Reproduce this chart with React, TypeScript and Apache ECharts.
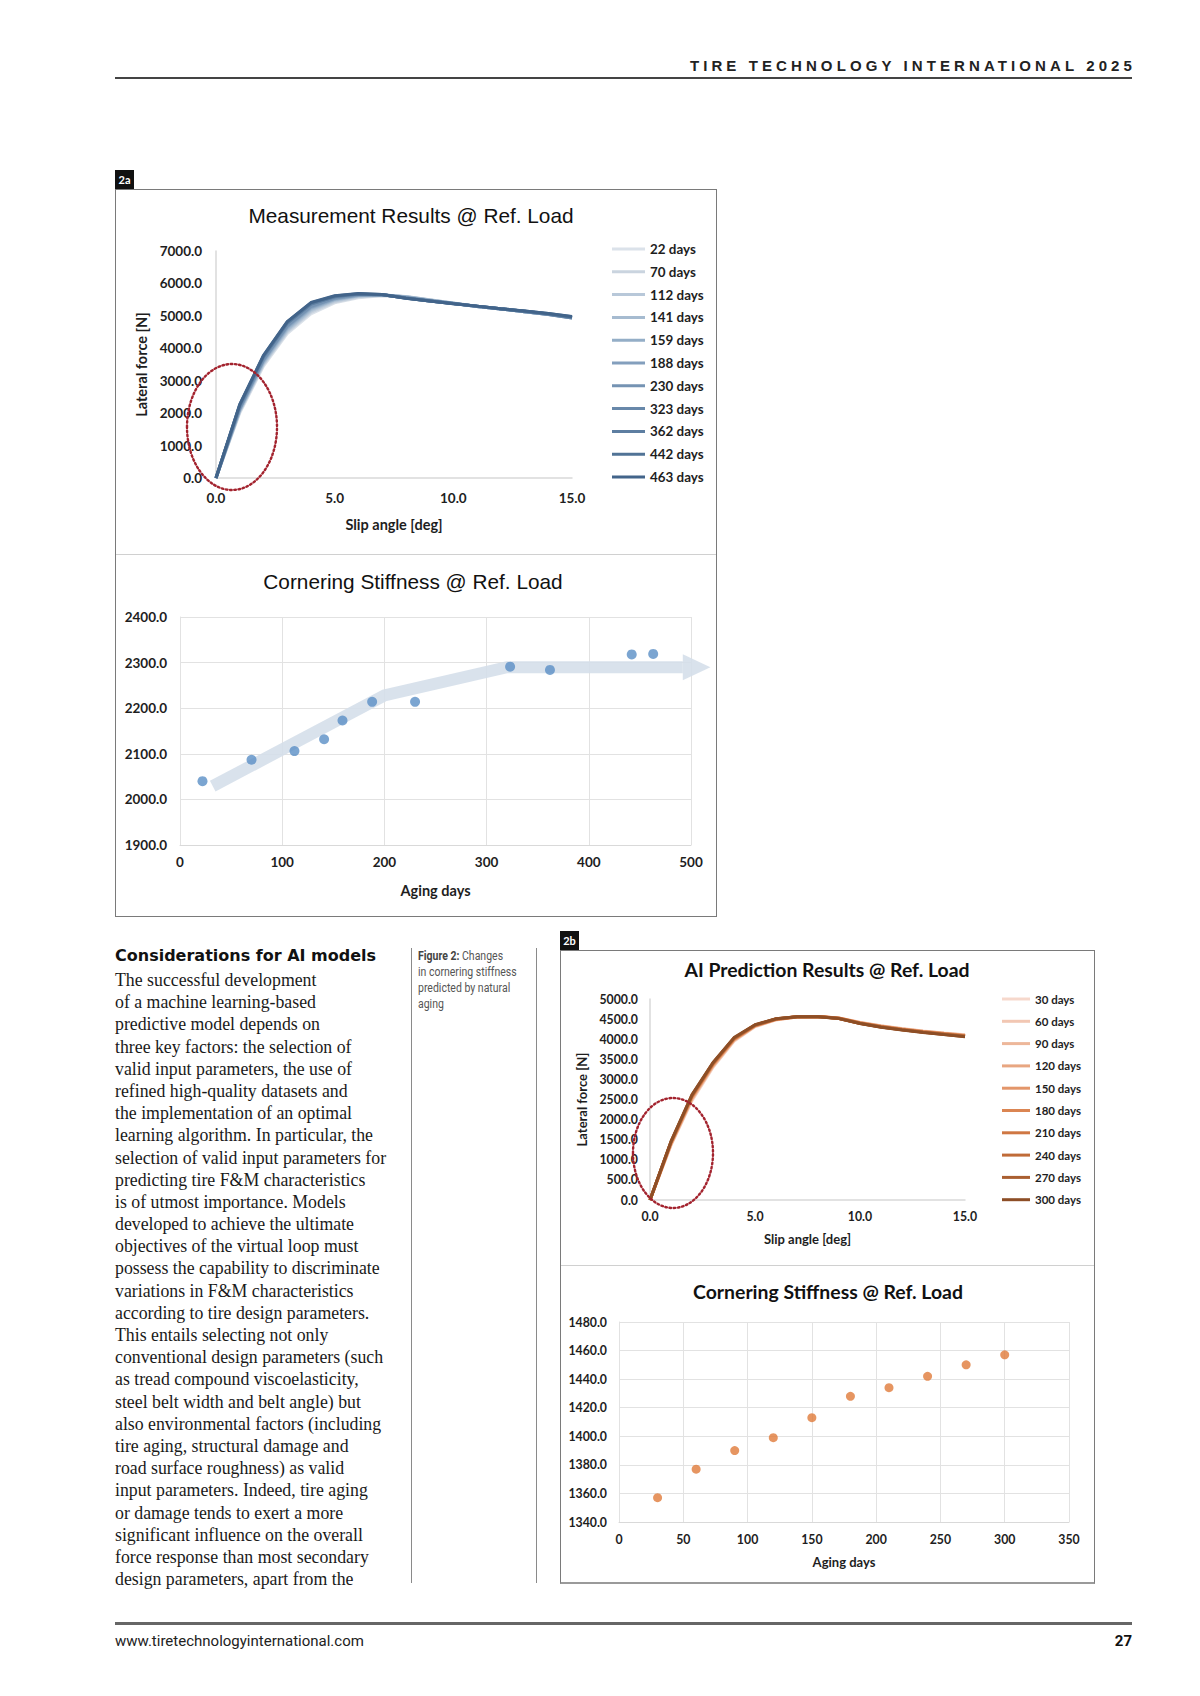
import React, { useEffect, useRef } from "react";
import * as echarts from "echarts";

// ---------- DATA ----------
const slipAngles = [0, 1, 2, 3, 4, 5, 6, 7, 8, 9, 10, 11, 12, 13, 14, 15];

const measuredLabels = ["22 days", "70 days", "112 days", "141 days", "159 days", "188 days", "230 days", "323 days", "362 days", "442 days", "463 days"];
const m22 = [0, 2000, 3450, 4450, 5060, 5400, 5560, 5620, 5600, 5500, 5400, 5300, 5220, 5140, 5060, 4960];
const m70 = [0, 2040, 3500, 4500, 5110, 5430, 5580, 5630, 5600, 5500, 5400, 5300, 5220, 5140, 5060, 4960];
const m112 = [0, 2060, 3530, 4540, 5150, 5460, 5600, 5640, 5590, 5490, 5390, 5290, 5210, 5130, 5050, 4950];
const m141 = [0, 2080, 3560, 4580, 5190, 5490, 5620, 5650, 5590, 5490, 5390, 5290, 5210, 5130, 5050, 4940];
const m159 = [0, 2110, 3600, 4620, 5230, 5510, 5630, 5650, 5580, 5480, 5390, 5290, 5210, 5130, 5050, 4940];
const m188 = [0, 2140, 3630, 4660, 5260, 5530, 5640, 5650, 5570, 5470, 5380, 5290, 5210, 5130, 5040, 4930];
const m230 = [0, 2150, 3650, 4690, 5290, 5550, 5650, 5650, 5560, 5470, 5380, 5290, 5210, 5130, 5040, 4930];
const m323 = [0, 2230, 3740, 4780, 5370, 5590, 5670, 5650, 5550, 5460, 5380, 5300, 5220, 5140, 5060, 4950];
const m362 = [0, 2220, 3730, 4770, 5360, 5590, 5670, 5650, 5550, 5460, 5380, 5300, 5220, 5140, 5060, 4950];
const m442 = [0, 2260, 3770, 4810, 5400, 5610, 5680, 5660, 5540, 5460, 5370, 5300, 5220, 5150, 5070, 4970];
const m463 = [0, 2270, 3780, 4820, 5410, 5620, 5690, 5660, 5540, 5460, 5370, 5300, 5220, 5150, 5070, 4980];
const measuredCurves = [m22, m70, m112, m141, m159, m188, m230, m323, m362, m442, m463];

const measuredDays = [22, 70, 112, 141, 159, 188, 230, 323, 362, 442, 463];
const measuredStiffness = [2040, 2087, 2106, 2132, 2173, 2214, 2214, 2291, 2284, 2318, 2319];

const trendDays = [32, 200, 320, 492];
const trendValues = [2029, 2228, 2290, 2290];
const trendHead = [492, 2290, 519]; // base day, value, tip day

const predictedLabels = ["30 days", "60 days", "90 days", "120 days", "150 days", "180 days", "210 days", "240 days", "270 days", "300 days"];
const p30 = [0, 1357, 2470, 3300, 3950, 4310, 4480, 4550, 4565, 4530, 4420, 4335, 4265, 4205, 4155, 4110];
const p60 = [0, 1377, 2500, 3320, 3965, 4320, 4485, 4552, 4565, 4528, 4415, 4330, 4260, 4200, 4150, 4104];
const p90 = [0, 1390, 2520, 3335, 3975, 4325, 4488, 4553, 4564, 4526, 4412, 4326, 4256, 4196, 4146, 4099];
const p120 = [0, 1399, 2535, 3350, 3985, 4330, 4492, 4555, 4564, 4524, 4409, 4322, 4252, 4192, 4142, 4094];
const p150 = [0, 1413, 2555, 3365, 3995, 4335, 4495, 4556, 4563, 4522, 4405, 4318, 4248, 4188, 4137, 4088];
const p180 = [0, 1428, 2575, 3380, 4005, 4340, 4498, 4557, 4563, 4520, 4402, 4314, 4244, 4184, 4133, 4083];
const p210 = [0, 1434, 2585, 3390, 4012, 4345, 4501, 4558, 4562, 4518, 4398, 4310, 4240, 4180, 4128, 4077];
const p240 = [0, 1442, 2598, 3400, 4020, 4350, 4504, 4559, 4562, 4516, 4395, 4306, 4236, 4176, 4124, 4072];
const p270 = [0, 1450, 2610, 3410, 4030, 4355, 4507, 4560, 4561, 4514, 4392, 4302, 4232, 4172, 4119, 4066];
const p300 = [0, 1457, 2620, 3420, 4040, 4360, 4510, 4560, 4560, 4512, 4390, 4298, 4228, 4168, 4114, 4060];
const predictedCurves = [p30, p60, p90, p120, p150, p180, p210, p240, p270, p300];

const predictedDays = [30, 60, 90, 120, 150, 180, 210, 240, 270, 300];
const predictedStiffness = [1357, 1377, 1390, 1399, 1413, 1428, 1434, 1442, 1450, 1457];

const bodyLines = [
  "The successful development",
  "of a machine learning-based",
  "predictive model depends on",
  "three key factors: the selection of",
  "valid input parameters, the use of",
  "refined high-quality datasets and",
  "the implementation of an optimal",
  "learning algorithm. In particular, the",
  "selection of valid input parameters for",
  "predicting tire F&M characteristics",
  "is of utmost importance. Models",
  "developed to achieve the ultimate",
  "objectives of the virtual loop must",
  "possess the capability to discriminate",
  "variations in F&M characteristics",
  "according to tire design parameters.",
  "This entails selecting not only",
  "conventional design parameters (such",
  "as tread compound viscoelasticity,",
  "steel belt width and belt angle) but",
  "also environmental factors (including",
  "tire aging, structural damage and",
  "road surface roughness) as valid",
  "input parameters. Indeed, tire aging",
  "or damage tends to exert a more",
  "significant influence on the overall",
  "force response than most secondary",
  "design parameters, apart from the",
];
const captionLines = ["in cornering stiffness", "predicted by natural", "aging"];

// ---------- STYLE ----------
const blueColors = ["#dbe2ea", "#cad4df", "#b8c8d9", "#a6bbd0", "#94aec7", "#839fbd", "#7593b3", "#6888aa", "#5d7ea1", "#517396", "#42648a"];
const orangeColors = ["#f6d8cc", "#f2c7b3", "#edb79a", "#e8a681", "#e3966a", "#db8552", "#cf7743", "#c06b38", "#aa5f31", "#8d4e26"];
const calibri = "Lato, 'Open Sans', sans-serif";
const arial = "'Liberation Sans', Arial, sans-serif";
const bandColor = "#d5dfea";

function axisLabelStyle(size: number, margin: number, decimals: number) {
  return {
    color: "#1e1e1e",
    fontFamily: calibri,
    fontWeight: "bold",
    fontSize: size,
    margin,
    formatter: (v: number) => v.toFixed(decimals),
  };
}

function nameStyle(size: number) {
  return { color: "#1e1e1e", fontFamily: calibri, fontWeight: "bold", fontSize: size, verticalAlign: "middle", align: "center" };
}

function titleText(text: string, x: number, y: number, font: string) {
  return { type: "text", x, y, z: 50, style: { text, align: "center", verticalAlign: "middle", font, fill: "#111" } };
}

function dottedEllipse(cx: number, cy: number, rx: number, ry: number) {
  return {
    type: "ellipse",
    z: 100,
    shape: { cx, cy, rx, ry },
    style: { fill: "none", stroke: "#a3232e", lineWidth: 2.4, lineDash: [1.6, 2.6], lineCap: "round" },
  };
}

function lineLegend(left: number, top: number, width: number, gap: number, fontSize: number, labels: string[]) {
  return {
    orient: "vertical",
    left,
    top,
    padding: 0,
    icon: "rect",
    itemWidth: width,
    itemHeight: 3,
    itemGap: gap,
    textStyle: { fontFamily: calibri, fontWeight: "bold", fontSize, lineHeight: 14, color: "#1e1e1e" },
    data: labels,
  };
}

const optMeasured = {
  animation: false,
  graphic: [titleText("Measurement Results @ Ref. Load", 295, 25, `normal 20.8px ${arial}`), dottedEllipse(116, 237, 45, 63)],
  grid: { left: 100, top: 61, width: 356, height: 227 },
  legend: lineLegend(496, 52, 33, 8.8, 13.4, measuredLabels),
  xAxis: {
    type: "value", min: 0, max: 15, interval: 5,
    axisLine: { show: true, lineStyle: { color: "#d9d9d9", width: 1.5 } },
    axisTick: { show: false }, splitLine: { show: false },
    axisLabel: axisLabelStyle(13.5, 13, 1),
    name: "Slip angle [deg]", nameLocation: "middle", nameGap: 46, nameTextStyle: nameStyle(14.5),
  },
  yAxis: {
    type: "value", min: 0, max: 7000, interval: 1000,
    axisLine: { show: true, lineStyle: { color: "#d9d9d9", width: 1.5 } },
    axisTick: { show: false }, splitLine: { show: false },
    axisLabel: axisLabelStyle(13.5, 14, 1),
    name: "Lateral force [N]", nameLocation: "middle", nameGap: 71, nameRotate: 90, nameTextStyle: nameStyle(14.5),
  },
  series: measuredCurves.map((curve, i) => ({
    type: "line",
    name: measuredLabels[i],
    data: slipAngles.map((s, j) => [s, curve[j]]),
    symbol: "none",
    lineStyle: { width: 3, color: blueColors[i] },
    itemStyle: { color: blueColors[i] },
    z: 2 + i,
  })),
};

const optMeasuredStiffness = {
  animation: false,
  graphic: [titleText("Cornering Stiffness @ Ref. Load", 297, 26, `normal 20.8px ${arial}`)],
  grid: { left: 64, top: 62, width: 511, height: 228 },
  xAxis: {
    type: "value", min: 0, max: 500, interval: 100,
    axisLine: { show: true, lineStyle: { color: "#d9d9d9" } },
    axisTick: { show: false },
    splitLine: { show: true, lineStyle: { color: "#e2e2e2" } },
    axisLabel: axisLabelStyle(13.5, 10, 0),
    name: "Aging days", nameLocation: "middle", nameGap: 45, nameTextStyle: nameStyle(14.5),
  },
  yAxis: {
    type: "value", min: 1900, max: 2400, interval: 100,
    axisLine: { show: true, lineStyle: { color: "#e2e2e2" } },
    axisTick: { show: false },
    splitLine: { show: true, lineStyle: { color: "#e2e2e2" } },
    axisLabel: axisLabelStyle(13.5, 13, 1),
  },
  series: [
    {
      type: "line",
      data: trendDays.map((d, i) => [d, trendValues[i]]),
      symbol: "none",
      silent: true,
      z: 1,
      lineStyle: { width: 12, color: bandColor, opacity: 0.9, cap: "butt", join: "miter" },
    },
    {
      type: "custom",
      silent: true,
      clip: false,
      z: 1,
      data: [trendHead],
      encode: { x: [0, 2], y: 1 },
      renderItem: (params: any, api: any) => {
        const base = api.coord([api.value(0), api.value(1)]);
        const tip = api.coord([api.value(2), api.value(1)]);
        return {
          type: "polygon",
          shape: { points: [[base[0], base[1] - 13], [tip[0], tip[1]], [base[0], base[1] + 13]] },
          style: { fill: bandColor, opacity: 0.9 },
        };
      },
    },
    {
      type: "scatter",
      data: measuredDays.map((d, i) => [d, measuredStiffness[i]]),
      symbolSize: 10,
      itemStyle: { color: "#5a8ec6" },
      z: 5,
    },
  ],
};

const optPredicted = {
  animation: false,
  graphic: [titleText("AI Prediction Results @ Ref. Load", 266, 18, `bold 19.4px ${calibri}`), dottedEllipse(112, 202, 40, 55)],
  grid: { left: 89, top: 48, width: 315, height: 201 },
  legend: lineLegend(441, 41, 28, 8.3, 11.5, predictedLabels),
  xAxis: {
    type: "value", min: 0, max: 15, interval: 5,
    axisLine: { show: true, lineStyle: { color: "#d9d9d9", width: 1.5 } },
    axisTick: { show: false }, splitLine: { show: false },
    axisLabel: axisLabelStyle(12.3, 10, 1),
    name: "Slip angle [deg]", nameLocation: "middle", nameGap: 39, nameTextStyle: nameStyle(13),
  },
  yAxis: {
    type: "value", min: 0, max: 5000, interval: 500,
    axisLine: { show: true, lineStyle: { color: "#d9d9d9", width: 1.5 } },
    axisTick: { show: false }, splitLine: { show: false },
    axisLabel: axisLabelStyle(12.3, 12, 1),
    name: "Lateral force [N]", nameLocation: "middle", nameGap: 62, nameRotate: 90, nameTextStyle: nameStyle(13),
  },
  series: predictedCurves.map((curve, i) => ({
    type: "line",
    name: predictedLabels[i],
    data: slipAngles.map((s, j) => [s, curve[j]]),
    symbol: "none",
    lineStyle: { width: 3, color: orangeColors[i] },
    itemStyle: { color: orangeColors[i] },
    z: 2 + i,
  })),
};

const optPredictedStiffness = {
  animation: false,
  graphic: [titleText("Cornering Stiffness @ Ref. Load", 267, 25, `bold 19.4px ${calibri}`)],
  grid: { left: 58, top: 56, width: 450, height: 200 },
  xAxis: {
    type: "value", min: 0, max: 350, interval: 50,
    axisLine: { show: true, lineStyle: { color: "#d9d9d9" } },
    axisTick: { show: false },
    splitLine: { show: true, lineStyle: { color: "#e2e2e2" } },
    axisLabel: axisLabelStyle(12.3, 11, 0),
    name: "Aging days", nameLocation: "middle", nameGap: 40, nameTextStyle: nameStyle(13),
  },
  yAxis: {
    type: "value", min: 1340, max: 1480, interval: 20,
    axisLine: { show: true, lineStyle: { color: "#e2e2e2" } },
    axisTick: { show: false },
    splitLine: { show: true, lineStyle: { color: "#e2e2e2" } },
    axisLabel: axisLabelStyle(12.3, 12, 1),
  },
  series: [
    {
      type: "scatter",
      data: predictedDays.map((d, i) => [d, predictedStiffness[i]]),
      symbolSize: 9,
      itemStyle: { color: "#e07b39" },
    },
  ],
};

function EChart({ option, style }: { option: any; style: React.CSSProperties }) {
  const ref = useRef<HTMLDivElement>(null);
  useEffect(() => {
    const chart = echarts.init(ref.current as HTMLDivElement, null, { renderer: "svg" });
    chart.setOption(option);
    return () => chart.dispose();
  }, [option]);
  return <div ref={ref} style={{ position: "absolute", ...style }} />;
}

const abs = (s: React.CSSProperties): React.CSSProperties => ({ position: "absolute", ...s });

export default function App() {
  return (
    <div style={abs({ left: 0, top: 0, width: 1200, height: 1696, background: "#fff", overflow: "hidden", color: "#1a1a1a" })}>
      {/* header */}
      <div style={abs({ right: 64, top: 57, lineHeight: "18px", fontFamily: arial, fontWeight: "bold", fontSize: 15, letterSpacing: "4.1px", color: "#222", whiteSpace: "nowrap" })}>
        TIRE TECHNOLOGY INTERNATIONAL <span style={{ fontWeight: 900 }}>2025</span>
      </div>
      <div style={abs({ left: 115, top: 77, width: 1017, height: 2, background: "#444" })} />

      {/* figure 2a */}
      <div style={abs({ left: 115, top: 170, width: 19, height: 19, background: "#111", color: "#fff", fontFamily: calibri, fontWeight: "bold", fontSize: 11, lineHeight: "19px", textAlign: "center" })}>2a</div>
      <div style={abs({ left: 115, top: 189, width: 600, height: 726, border: "1px solid #7a7a7a" })} />
      <div style={abs({ left: 116, top: 554, width: 600, height: 1, background: "#d0d0d0" })} />
      <EChart option={optMeasured} style={{ left: 116, top: 190, width: 600, height: 364 }} />
      <EChart option={optMeasuredStiffness} style={{ left: 116, top: 555, width: 600, height: 360 }} />

      {/* text column */}
      <div style={abs({ left: 115, top: 945, fontFamily: "'DejaVu Sans', sans-serif", fontWeight: "bold", fontSize: 16, lineHeight: "22px", color: "#111", whiteSpace: "nowrap" })}>
        Considerations for AI models
      </div>
      <div style={abs({ left: 115, top: 969, fontFamily: "'Liberation Serif', serif", fontSize: 17.8, lineHeight: "22.18px", color: "#1a1a1a", whiteSpace: "nowrap" })}>
        {bodyLines.map((l, i) => (
          <div key={i}>{l}</div>
        ))}
      </div>
      <div style={abs({ left: 411, top: 948, width: 1, height: 635, background: "#8a8a8a" })} />
      <div style={abs({ left: 536, top: 948, width: 1, height: 635, background: "#8a8a8a" })} />
      <div style={abs({ left: 418, top: 948, fontFamily: "Roboto, sans-serif", fontSize: 12.5, lineHeight: "16px", color: "#555", whiteSpace: "nowrap", transform: "scaleX(0.84)", transformOrigin: "left top" })}>
        <div><b style={{ fontWeight: 700, color: "#444" }}>Figure 2:</b> Changes</div>
        {captionLines.map((l, i) => (
          <div key={i}>{l}</div>
        ))}
      </div>

      {/* figure 2b */}
      <div style={abs({ left: 560, top: 931, width: 19, height: 19, background: "#111", color: "#fff", fontFamily: calibri, fontWeight: "bold", fontSize: 11, lineHeight: "19px", textAlign: "center" })}>2b</div>
      <div style={abs({ left: 560, top: 950, width: 533, height: 631, border: "1px solid #7a7a7a", borderBottom: "2px solid #9a9a9a" })} />
      <div style={abs({ left: 561, top: 1265, width: 533, height: 1, background: "#d0d0d0" })} />
      <EChart option={optPredicted} style={{ left: 561, top: 951, width: 533, height: 314 }} />
      <EChart option={optPredictedStiffness} style={{ left: 561, top: 1266, width: 533, height: 316 }} />

      {/* footer */}
      <div style={abs({ left: 115, top: 1622, width: 1017, height: 3, background: "#666" })} />
      <div style={abs({ left: 115, top: 1632, fontFamily: "Roboto, sans-serif", fontSize: 15, lineHeight: "18px", color: "#222", whiteSpace: "nowrap" })}>
        www.tiretechnologyinternational.com
      </div>
      <div style={abs({ right: 68, top: 1632, fontFamily: "Roboto, sans-serif", fontWeight: "bold", fontSize: 15, lineHeight: "18px", color: "#111" })}>27</div>
    </div>
  );
}
